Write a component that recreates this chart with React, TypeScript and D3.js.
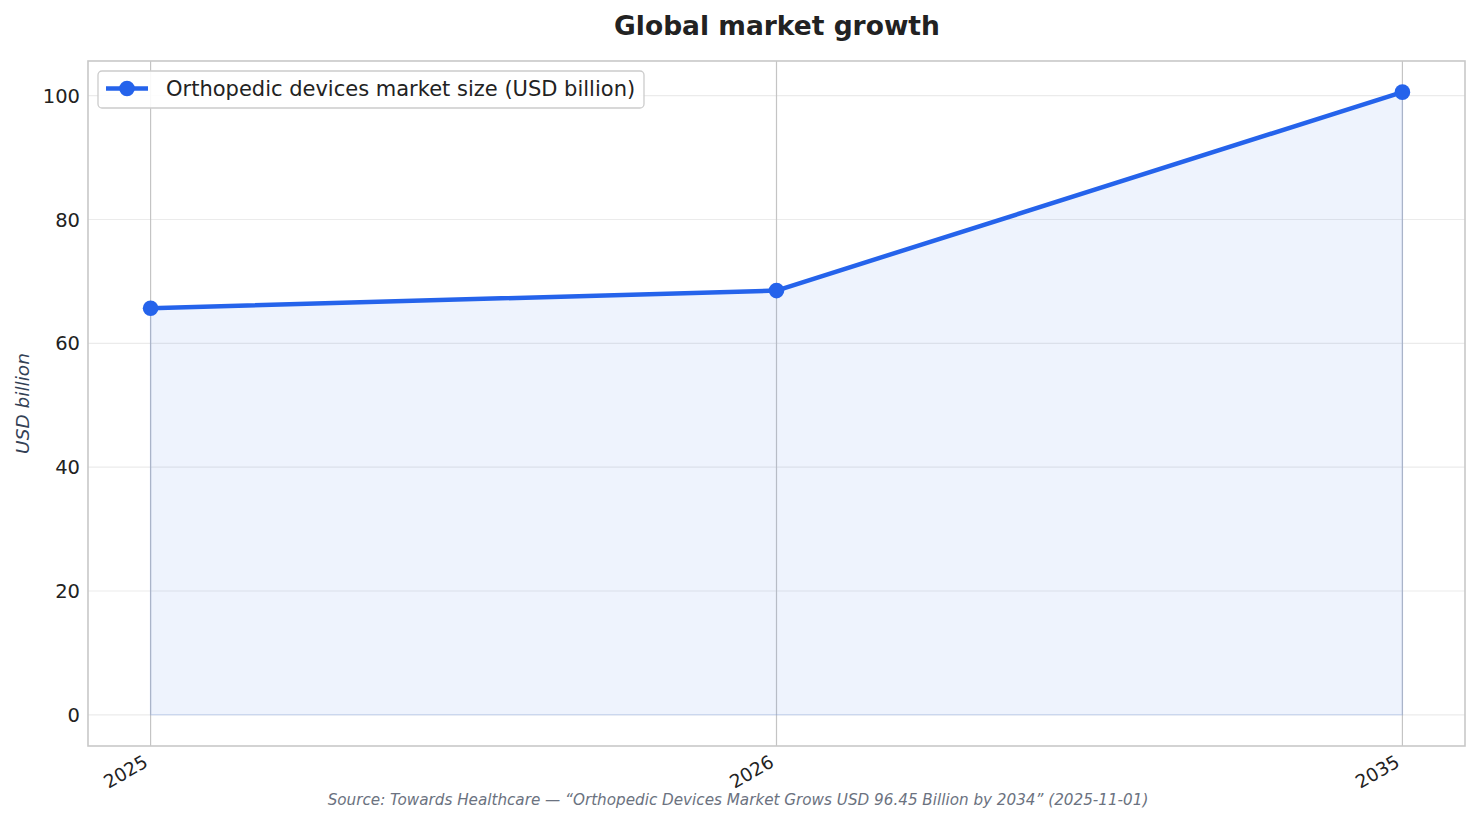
import React from "react";
import * as d3 from "d3";

const categories = ["2025", "2026", "2035"];
const values = [65.67, 68.52, 100.57];
const yTicks = [0, 20, 40, 60, 80, 100];
const seriesName = "Orthopedic devices market size (USD billion)";
const title = "Global market growth";
const yLabel = "USD billion";
const source =
  "Source: Towards Healthcare — \u201cOrthopedic Devices Market Grows USD 96.45 Billion by 2034\u201d (2025-11-01)";

const W = 1481;
const H = 824;
const L = 88, R = 1465, T = 61, B = 746;
const FONT = "'DejaVu Sans', sans-serif";
const BLUE = "#2563eb";

export default function App() {
  const maxV = d3.max(values) as number;
  const pad = maxV * 0.05;
  const x = d3.scaleLinear().domain([-0.1, categories.length - 1 + 0.1]).range([L, R]);
  const y = d3.scaleLinear().domain([0 - pad, maxV + pad]).range([B, T]);

  const pts = values.map((v, i) => [x(i), y(v)] as [number, number]);
  const line = d3.line<[number, number]>()(pts) as string;
  const area = d3
    .area<number>()
    .x((_, i) => x(i))
    .y0(y(0))
    .y1((d) => y(d))(values) as string;

  return (
    <svg width={W} height={H} style={{ position: "absolute", left: 0, top: 0, background: "#fff" }}>
      <rect x={0} y={0} width={W} height={H} fill="#fff" />
      {yTicks.map((t) => (
        <line key={"h" + t} x1={L} x2={R} y1={y(t)} y2={y(t)} stroke="#ebebeb" strokeWidth={1.2} />
      ))}
      {categories.map((c, i) => (
        <line key={"v" + c} x1={x(i)} x2={x(i)} y1={T} y2={B} stroke="#c4c4c4" strokeWidth={1.2} />
      ))}
      <path d={area} fill={BLUE} fillOpacity={0.08} stroke={BLUE} strokeOpacity={0.12} strokeWidth={1.5} />
      <path d={line} fill="none" stroke={BLUE} strokeWidth={4.5} strokeLinejoin="round" />
      {pts.map((p, i) => (
        <circle key={"m" + i} cx={p[0]} cy={p[1]} r={7.8} fill={BLUE} />
      ))}
      <rect x={L} y={T} width={R - L} height={B - T} fill="none" stroke="#c8c8c8" strokeWidth={1.6} />
      {yTicks.map((t) => (
        <text key={"yt" + t} x={L - 8} y={y(t)} dy="0.36em" textAnchor="end" fontFamily={FONT} fontSize={19.5} fill="#222">
          {t}
        </text>
      ))}
      {categories.map((c, i) => (
        <text
          key={"xt" + c}
          transform={`translate(${x(i) - 8},${B + 8}) rotate(-30)`}
          textAnchor="end"
          dy="0.72em"
          fontFamily={FONT}
          fontSize={18.5}
          fill="#222"
        >
          {c}
        </text>
      ))}
      <text
        transform={`translate(29,${(T + B) / 2}) rotate(-90)`}
        textAnchor="middle"
        fontFamily={FONT}
        fontSize={18.5}
        fontStyle="italic"
        fill="#334155"
      >
        {yLabel}
      </text>
      <text x={777} y={35} textAnchor="middle" fontFamily={FONT} fontSize={26.5} fontWeight="bold" fill="#222">
        {title}
      </text>
      <rect x={98} y={71} width={546} height={37} rx={4} fill="#fff" fillOpacity={0.9} stroke="#cccccc" strokeWidth={1.3} />
      <line x1={106} x2={148} y1={88.5} y2={88.5} stroke={BLUE} strokeWidth={4.5} />
      <circle cx={127} cy={88.5} r={7.8} fill={BLUE} />
      <text x={166} y={88.5} dy="0.36em" fontFamily={FONT} fontSize={21} fill="#222">
        {seriesName}
      </text>
      <text x={738} y={805} textAnchor="middle" fontFamily={FONT} fontSize={15.2} fontStyle="italic" fill="#6b7280">
        {source}
      </text>
    </svg>
  );
}
